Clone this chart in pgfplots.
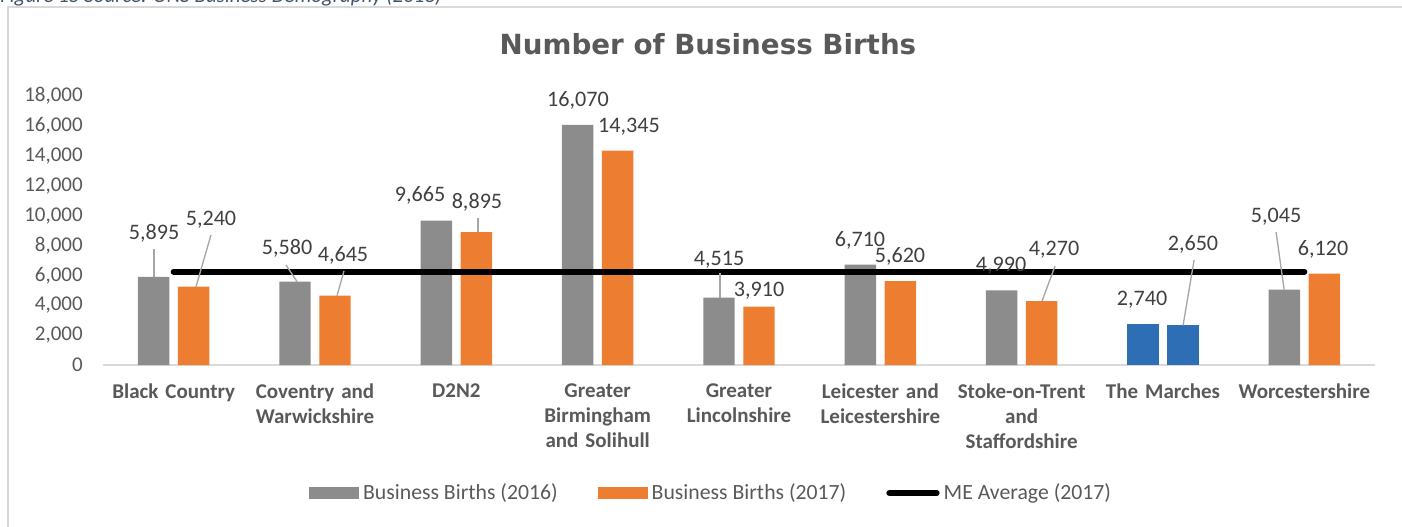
\documentclass[border=0pt]{standalone}
\usepackage{fontspec}
\setmainfont{Carlito}
\newfontfamily\titlefont{DejaVu Sans}
\usepackage{pgfplots}
\pgfplotsset{compat=1.18}
\definecolor{cgray}{HTML}{8C8C8C}
\definecolor{corange}{HTML}{ED7D31}
\definecolor{cblue}{HTML}{2E6EB5}
\definecolor{ctext}{HTML}{404040}
\definecolor{clabel}{HTML}{595959}
\definecolor{cframe}{HTML}{D9D9D9}
\definecolor{cleader}{HTML}{A6A6A6}
\definecolor{ccap}{HTML}{44546A}
\newcommand{\lf}{\fontsize{15.75}{19}\selectfont}
\newcommand{\df}{\fontsize{16.6}{19}\selectfont}
\newcommand{\gf}{\fontsize{16.3}{19}\selectfont}
\begin{document}
\begin{tikzpicture}
\useasboundingbox (0,0) rectangle (1051.5pt,-395.25pt);
\begin{scope}[x=0.75pt,y=-0.75pt]
\draw[cframe, line width=1.1pt] (8,560) -- (8,7) -- (1440,7);
\node[anchor=base west, inner sep=0pt, font=\lf\itshape, text=ccap] at (0,3) {Figure 15 Source: ONS Business Demography (2018)};
\node[anchor=base, inner sep=0pt, font=\titlefont\bfseries\fontsize{20.8}{25}\selectfont, text=clabel] at (708,55) {Number of Business Births};
\end{scope}
\begin{axis}[
  at={(77.25pt,-273.75pt)}, anchor=south west,
  scale only axis, width=954pt, height=201.75pt,
  xmin=-0.5, xmax=8.5, ymin=0, ymax=18000,
  axis x line*=bottom, axis y line*=left,
  x axis line style={cframe, line width=1.1pt, -},
  y axis line style={draw=none},
  tick style={draw=none}, major tick length=0pt,
  ytick={0,2000,...,18000},
  scaled y ticks=false,
  /pgf/number format/.cd, 1000 sep={,}, fixed, assume math mode=true,
  /pgfplots/.cd,
  yticklabel style={font=\lf, text=clabel, inner sep=0pt, xshift=-15pt},
  xtick={0,...,8},
  xticklabels={{Black Country},{Coventry and\\Warwickshire},{D2N2},{Greater\\Birmingham\\and Solihull},{Greater\\Lincolnshire},{Leicester and\\Leicestershire},{Stoke-on-Trent\\and\\Staffordshire},{The Marches},{Worcestershire}},
  xticklabel style={font=\bfseries\lf, text=clabel, align=center, text width=140pt, inner sep=0pt, anchor=north, yshift=-13.5pt},
  legend columns=3,
  legend style={at={(0.4788,-0.476)}, anchor=center, draw=none, fill=none, font=\gf, text=clabel,
    /tikz/every even column/.append style={column sep=27pt},
    nodes={inner sep=3pt}},
  clip=false,
]
\addplot[ybar, bar width=23.6pt, bar shift=-15pt, fill=cgray, draw=none,
  legend image code/.code={\fill[cgray] (0pt,-4.5pt) rectangle (37.5pt,4.5pt);}]
  coordinates {(0,5895)(1,5580)(2,9665)(3,16070)(4,4515)(5,6710)(6,4990)(8,5045)};
\addlegendentry{Business Births (2016)}
\addplot[ybar, bar width=23.6pt, bar shift=15pt, fill=corange, draw=none,
  legend image code/.code={\fill[corange] (0pt,-4.5pt) rectangle (37.5pt,4.5pt);}]
  coordinates {(0,5240)(1,4645)(2,8895)(3,14345)(4,3910)(5,5620)(6,4270)(8,6120)};
\addlegendentry{Business Births (2017)}
\addplot[ybar, bar width=23.6pt, bar shift=-15pt, fill=cblue, draw=none, forget plot]
  coordinates {(7,2740)};
\addplot[ybar, bar width=23.6pt, bar shift=15pt, fill=cblue, draw=none, forget plot]
  coordinates {(7,2650)};
\addplot[black, line width=4.5pt, line cap=round, mark=none,
  legend image code/.code={\draw[black, line width=4.5pt, line cap=round] (2.5pt,0pt) -- (38pt,0pt);}]
  coordinates {(0,6245)(8,6245)};
\addlegendentry{ME Average (2017)}
% leader lines
\draw[cleader, line width=1pt] (axis cs:-0.14,7760) -- (axis cs:-0.14,5895);
\draw[cleader, line width=1pt] (axis cs:0.264,8701) -- (axis cs:0.158,5240);
\draw[cleader, line width=1pt] (axis cs:0.795,6693) -- (axis cs:0.873,5580);
\draw[cleader, line width=1pt] (axis cs:1.205,6291) -- (axis cs:1.156,4645);
\draw[cleader, line width=1pt] (axis cs:2.153,9839) -- (axis cs:2.153,8895);
\draw[cleader, line width=1pt] (axis cs:3.866,6158) -- (axis cs:3.866,4515);
\draw[cleader, line width=1pt] (axis cs:6.236,6626) -- (axis cs:6.144,4270);
\draw[cleader, line width=1pt] (axis cs:7.220,7028) -- (axis cs:7.142,2650);
\draw[cleader, line width=1pt] (axis cs:7.800,8902) -- (axis cs:7.857,5045);
% data labels
\begin{scope}[every node/.style={font=\df, text=ctext, anchor=base, inner sep=0pt, yshift=-5.1pt}]
\node at (axis cs:-0.139,8835) {5,895};
\node at (axis cs:0.264,9772) {5,240};
\node at (axis cs:0.802,7831) {5,580};
\node at (axis cs:1.198,7362) {4,645};
\node at (axis cs:1.743,11378) {9,665};
\node at (axis cs:2.146,10910) {8,895};
\node at (axis cs:2.861,17736) {16,070};
\node at (axis cs:3.222,15996) {14,345};
\node at (axis cs:3.859,7095) {4,515};
\node at (axis cs:4.142,5020) {3,910};
\node at (axis cs:4.856,8366) {6,710};
\node at (axis cs:5.139,7295) {5,620};
\node at (axis cs:5.854,6693) {4,990};
\node at (axis cs:6.229,7764) {4,270};
\node at (axis cs:6.852,4417) {2,740};
\node at (axis cs:7.212,8099) {2,650};
\node at (axis cs:7.800,9973) {5,045};
\node at (axis cs:8.132,7764) {6,120};
\end{scope}
\end{axis}
\end{tikzpicture}
\end{document}
